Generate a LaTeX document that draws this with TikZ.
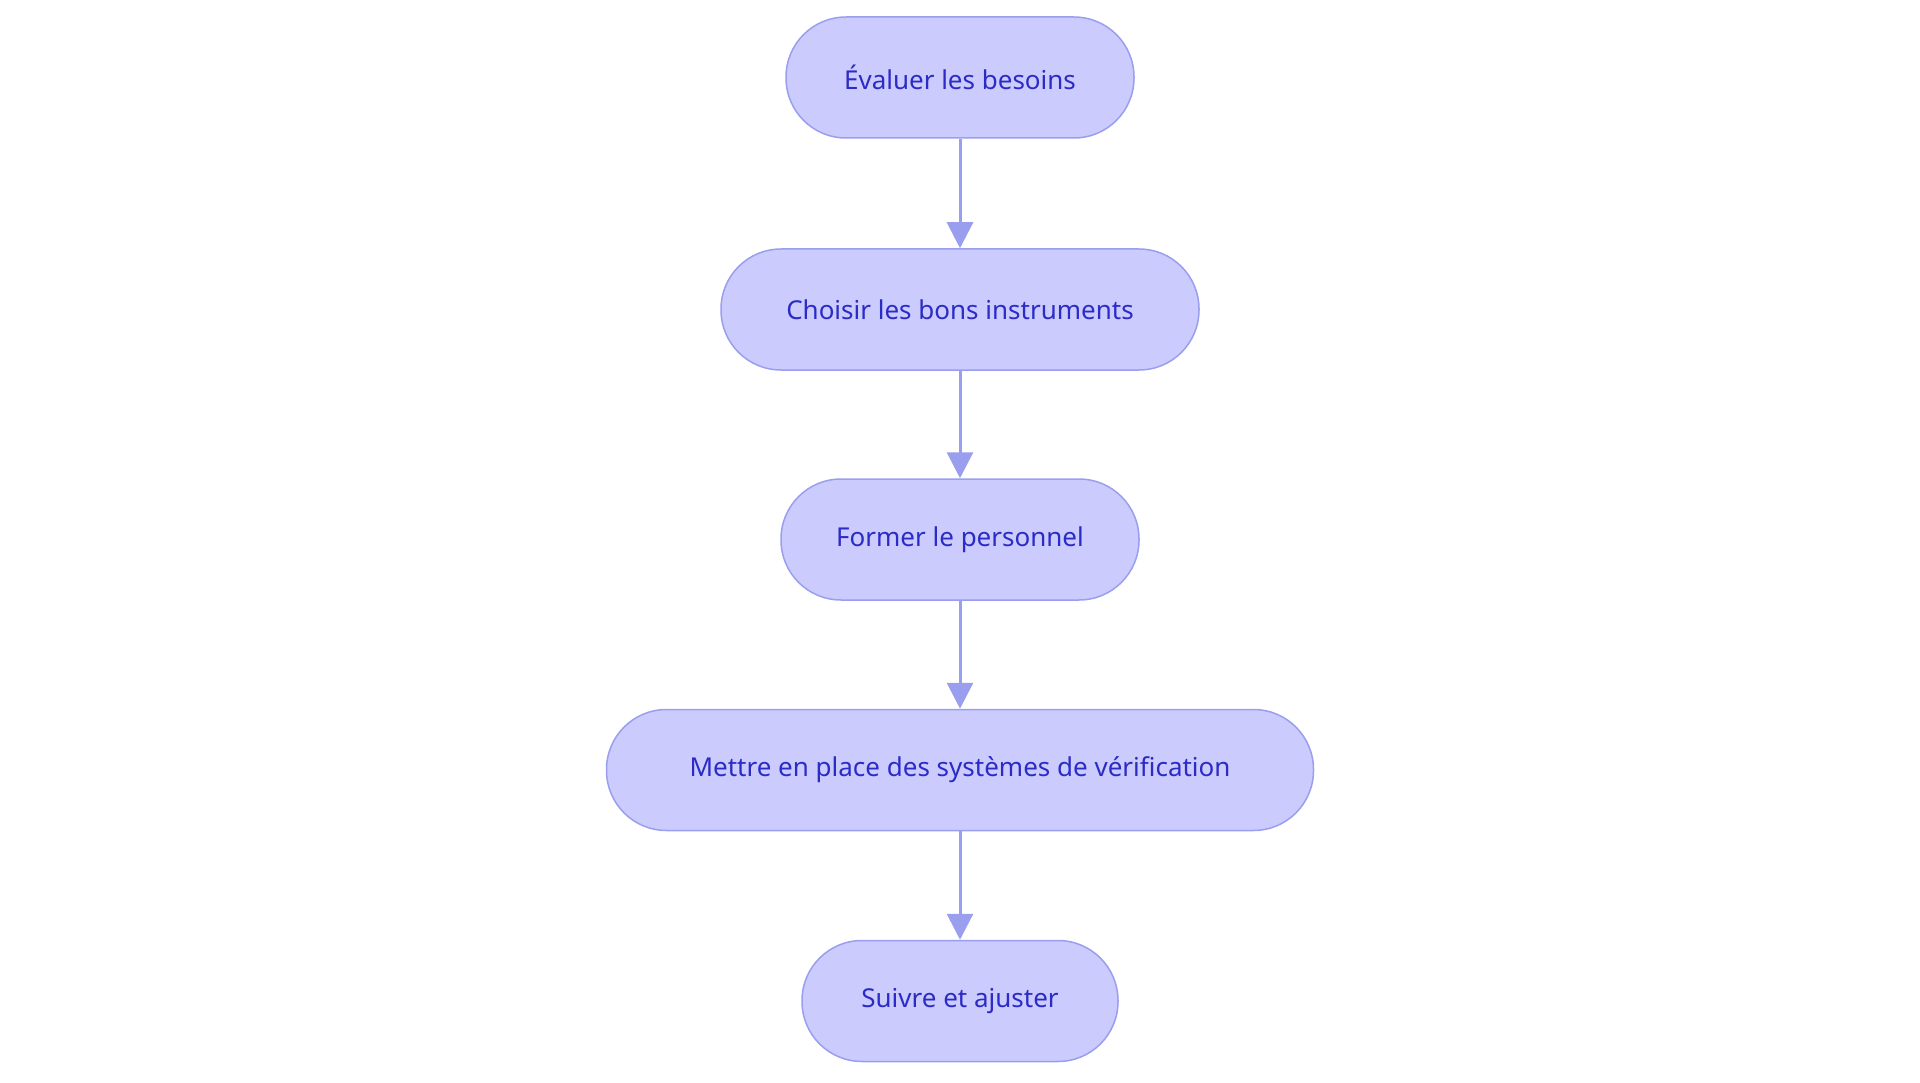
\documentclass[tikz,border=0pt]{standalone}
\usepackage{fontspec}
\setmainfont{Noto Sans}
\usetikzlibrary{arrows.meta}
\definecolor{boxfill}{HTML}{CBCBFD}
\definecolor{boxline}{HTML}{9A9EEE}
\definecolor{txt}{HTML}{2B2BC6}
\tikzset{
  stepbox/.style={draw=boxline, fill=boxfill, line width=1.5pt, rounded corners=60pt,
    minimum height=121pt, inner sep=0pt, text=txt, font=\fontsize{26}{30}\selectfont},
  conn/.style={draw=boxline, line width=3pt, -{Triangle[length=26pt,width=26pt]}}
}
\begin{document}
\begin{tikzpicture}[x=1pt,y=-1pt]
\useasboundingbox (0,0) rectangle (1920,1083);
\node[stepbox, minimum width=348pt] (a) at (960,77.5) {Évaluer les besoins};
\node[stepbox, minimum width=478pt] (b) at (960,309.5) {Choisir les bons instruments};
\node[stepbox, minimum width=358pt] (c) at (960,539.5) {Former le personnel};
\node[stepbox, minimum width=707pt] (d) at (960,770) {Mettre en place des systèmes de vérification};
\node[stepbox, minimum width=316pt] (e) at (960,1001) {Suivre et ajuster};
\draw[conn] (a) -- (b);
\draw[conn] (b) -- (c);
\draw[conn] (c) -- (d);
\draw[conn] (d) -- (e);
\end{tikzpicture}
\end{document}
